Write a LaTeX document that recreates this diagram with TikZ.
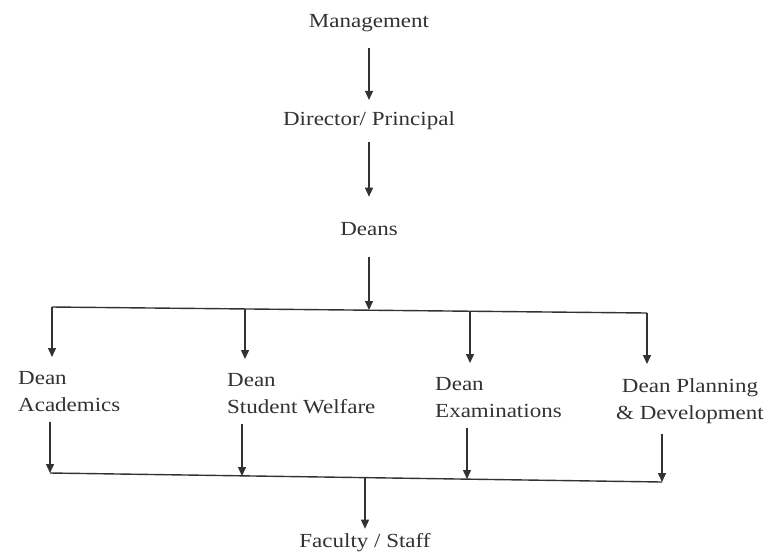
\documentclass[tikz,border=0pt]{standalone}
\usepackage{fontspec}
\setmainfont{Liberation Serif}[FakeStretch=1.15]
\usetikzlibrary{arrows.meta}
\definecolor{ink}{RGB}{50,50,50}

\begin{document}
\begin{tikzpicture}[x=1pt,y=-1pt,
    lbl/.style={text=ink, inner sep=3pt, font=\fontsize{20}{27}\selectfont},
    arr/.style={draw=ink, line width=1.4pt, -{Triangle[length=9pt,width=8pt]}},
    bus/.style={draw=ink, line width=1.4pt}]
\useasboundingbox (0,0) rectangle (770,558);
%% The chain at the top. Every node is placed at its baseline.
    \begin{scope}
    \node [lbl, anchor=base] (mgmt) at (369,27) {Management};
    \node [lbl, anchor=base] (dir) at (369,125) {Director/ Principal};
    \node [lbl, anchor=base] (deans) at (369,235) {Deans};
    \draw [arr, shorten <=13pt, shorten >=8pt] (mgmt.south) -- (dir.north);
    \draw [arr, shorten <=10pt, shorten >=22pt] (dir.south) -- (deans.north);
    \end{scope}
%% The upper bus line. The scan is a little skewed, so the ends are not level.
    \coordinate (tb1) at (52,307);
    \coordinate (tb2) at (245,309);
    \coordinate (tb) at (369,310);
    \coordinate (tb3) at (470,311);
    \coordinate (tb4) at (647,313);
    \draw [bus] (tb1) -- (tb4);
    \draw [arr, shorten <=19pt] (deans.south) -- (tb);
%% The four deans
    \node [lbl, anchor=north west, align=left] (acad) at (15,368) {Dean\\Academics};
    \node [lbl, anchor=north west, align=left] (welf) at (224,370) {Dean\\Student Welfare};
    \node [lbl, anchor=north west, align=left] (exam) at (432,374) {Dean\\Examinations};
    \node [lbl, anchor=north, align=center] (plan) at (690,375) {Dean Planning\\\& Development};
    \draw [arr, shorten >=11pt] (tb1) -- (tb1 |- acad.north);
    \draw [arr, shorten >=11pt] (tb2) -- (tb2 |- welf.north);
    \draw [arr, shorten >=11pt] (tb3) -- (tb3 |- exam.north);
    \draw [arr, shorten >=11pt] (tb4) -- (tb4 |- plan.north);
%% The lower bus line and the last box
    \coordinate (bb1) at (50,473);
    \coordinate (bb2) at (242,476);
    \coordinate (bb) at (365,478);
    \coordinate (bb3) at (467,479);
    \coordinate (bb4) at (662,482);
    \draw [bus] (bb1) -- (bb4);
    \draw [arr, shorten <=7pt] (acad.south -| bb1) -- (bb1);
    \draw [arr, shorten <=7pt] (welf.south -| bb2) -- (bb2);
    \draw [arr, shorten <=7pt] (exam.south -| bb3) -- (bb3);
    \draw [arr, shorten <=7pt] (plan.south -| bb4) -- (bb4);
    \node [lbl, anchor=base] (fac) at (365,547) {Faculty / Staff};
    \draw [arr, shorten >=1pt] (bb) -- (fac.north);
\end{tikzpicture}
\end{document}
